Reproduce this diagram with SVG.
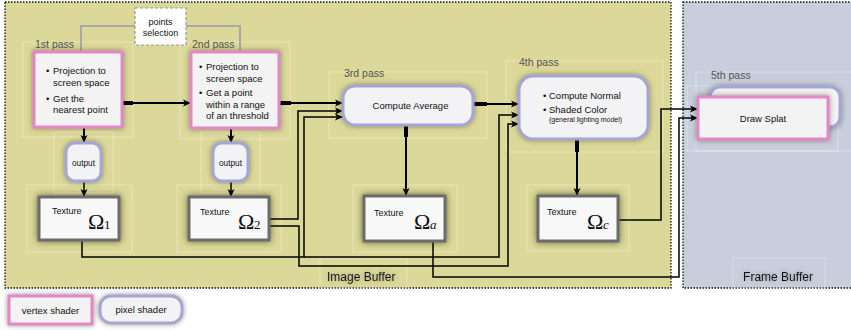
<svg xmlns="http://www.w3.org/2000/svg" width="851" height="330" viewBox="0 0 851 330">
<defs>
<style>
text{font-family:"Liberation Sans",Arial,sans-serif;fill:#111}
.lbl{font-size:10.5px;fill:#555}
.bt{font-size:9.5px}
.vs{fill:#f3f3f3;stroke:#e288c6;stroke-width:3}
.ps{fill:#f3f3f6;stroke:#a6a6d6;stroke-width:3}
.tx{fill:#f8f8f8;stroke:#6c6c6c;stroke-width:3}
.cont{fill:none;stroke:#ffffff;stroke-opacity:0.35;stroke-width:1}
.om{font-family:"Liberation Serif","Times New Roman",serif;font-size:22px}
.sub{font-family:"Liberation Serif","Times New Roman",serif;font-size:13px}
.c{fill:none;stroke:#000;stroke-width:1.5}
.ct{fill:none;stroke:#000;stroke-width:2}
.stub{fill:none;stroke:#000;stroke-width:4}
.gl{fill:none;stroke:#a8a8a8;stroke-width:2}
</style>
<filter id="sh" x="-20%" y="-30%" width="140%" height="160%"><feDropShadow dx="0" dy="0" stdDeviation="2.5" flood-color="#3a3a20" flood-opacity="0.55"/></filter>
<filter id="sht" x="-20%" y="-30%" width="140%" height="160%"><feDropShadow dx="0" dy="0" stdDeviation="3" flood-color="#2a2a10" flood-opacity="0.7"/></filter>
<filter id="tsh" x="-10%" y="-40%" width="120%" height="180%"><feDropShadow dx="0" dy="0" stdDeviation="2" flood-color="#555" flood-opacity="0.5"/></filter>
<marker id="ah" markerWidth="9" markerHeight="8" refX="8" refY="4" orient="auto" markerUnits="userSpaceOnUse"><path d="M0,0.5 L8,4 L0,7.5 L2,4 z" fill="#000"/></marker>
</defs>

<g id="image-buffer">
<rect x="5" y="2" width="666" height="286" fill="#dbd899" stroke="#111" stroke-width="1.3" stroke-dasharray="1.5 1.5"/>
<rect class="cont" x="320" y="258" width="87" height="30"/>
<text x="327" y="281" font-size="12px" fill="#333" filter="url(#tsh)">Image Buffer</text>
</g>
<g id="frame-buffer">
<rect x="683" y="2" width="172" height="286" fill="#c8cedc" stroke="#111" stroke-width="1.3" stroke-dasharray="1.5 1.5"/>
<rect class="cont" x="733" y="258" width="92" height="30"/>
<text x="778" y="281" font-size="12px" fill="#333" text-anchor="middle" filter="url(#tsh)">Frame Buffer</text>
</g>

<g id="containers">
<rect class="cont" x="23" y="42" width="110" height="95"/>
<rect class="cont" x="180" y="42" width="110" height="97"/>
<rect class="cont" x="54" y="132" width="59" height="61"/>
<rect class="cont" x="201" y="132" width="59" height="61"/>
<rect class="cont" x="27" y="185" width="105" height="67"/>
<rect class="cont" x="177" y="185" width="104" height="67"/>
<rect class="cont" x="329" y="72" width="158" height="66"/>
<rect class="cont" x="353" y="185" width="104" height="67"/>
<rect class="cont" x="506" y="61" width="157" height="91"/>
<rect class="cont" x="527" y="185" width="102" height="66"/>
<rect class="cont" x="696" y="72" width="160" height="79"/>
<rect class="cont" x="687" y="86" width="151" height="65"/>
</g>

<g id="connectors">
<path class="gl" d="M135,26 H81 V52"/>
<path class="gl" d="M186,26 H240 V52"/>
<path class="stub" d="M122,103 H133"/>
<path class="ct" d="M122,103 H191" marker-end="url(#ah)"/>
<path class="stub" d="M279,103 H291"/>
<path class="ct" d="M279,103 H343" marker-end="url(#ah)"/>
<path class="c" d="M269,219 H298 V111 H343" marker-end="url(#ah)"/>
<path class="c" d="M82,238 V257 H304 V117 H343" marker-end="url(#ah)"/>
<path class="c" d="M304,257 H499 V115 H519" marker-end="url(#ah)"/>
<path class="c" d="M269,226 H299 V266 H508 V124 H519" marker-end="url(#ah)"/>
<path class="stub" d="M473,104 H487"/>
<path class="ct" d="M473,104 H519" marker-end="url(#ah)"/>
<path class="stub" d="M406,125 V137"/>
<path class="ct" d="M406,125 V196" stroke-width="2.5" marker-end="url(#ah)"/>
<path class="stub" d="M577,139 V152"/>
<path class="ct" d="M577,139 V196" stroke-width="2.5" marker-end="url(#ah)"/>
<path class="c" d="M614,220 H661 V109 H698" marker-end="url(#ah)"/>
<path class="c" d="M433,238 V277 H679 V118 H698" marker-end="url(#ah)"/>
<path class="ct" d="M84,127 V143" stroke-width="3" marker-end="url(#ah)"/>
<path class="c" d="M84,181 V197" marker-end="url(#ah)"/>
<path class="ct" d="M231,128 V143" marker-end="url(#ah)"/>
<path class="c" d="M231,181 V197" marker-end="url(#ah)"/>
</g>

<g id="points-selection">
<rect x="135" y="8" width="51" height="37" fill="#fff" stroke="#999" stroke-width="1.2" stroke-dasharray="3 2"/>
<text x="160.5" y="25" font-size="9px" text-anchor="middle">points</text>
<text x="160.5" y="36" font-size="9px" text-anchor="middle">selection</text>
</g>

<g id="pass1">
<text class="lbl" x="35" y="48">1st pass</text>
<rect class="vs" x="34" y="52" width="88" height="75" filter="url(#sh)"/>
<text class="bt" x="46" y="74">•</text><text class="bt" x="53" y="74">Projection to</text>
<text class="bt" x="53" y="86">screen space</text>
<text class="bt" x="46" y="102">•</text><text class="bt" x="53" y="102">Get the</text>
<text class="bt" x="53" y="113">nearest point</text>
</g>

<g id="output1">
<rect class="ps" x="66" y="143" width="35" height="38" rx="9" filter="url(#sh)"/>
<text x="83.5" y="166" font-size="8.3px" text-anchor="middle">output</text>
</g>

<g id="texture1">
<rect class="tx" x="39" y="197" width="80" height="43" filter="url(#sht)"/>
<text x="52" y="214" font-size="9px">Texture</text>
<text class="om" x="88" y="229">Ω</text><text class="sub" x="104" y="229">1</text>
</g>

<g id="pass2">
<text class="lbl" x="192" y="48">2nd pass</text>
<rect class="vs" x="191" y="52" width="88" height="76" filter="url(#sh)"/>
<text class="bt" x="199" y="70">•</text><text class="bt" x="206" y="70">Projection to</text>
<text class="bt" x="206" y="82">screen space</text>
<text class="bt" x="199" y="96">•</text><text class="bt" x="206" y="96">Get a point</text>
<text class="bt" x="206" y="108">within a range</text>
<text class="bt" x="206" y="119">of an threshold</text>
</g>

<g id="output2">
<rect class="ps" x="213" y="143" width="35" height="38" rx="9" filter="url(#sh)"/>
<text x="230.5" y="166" font-size="8.3px" text-anchor="middle">output</text>
</g>

<g id="texture2">
<rect class="tx" x="189" y="197" width="80" height="43" filter="url(#sht)"/>
<text x="200" y="215" font-size="9px">Texture</text>
<text class="om" x="238" y="229">Ω</text><text class="sub" x="254" y="229">2</text>
</g>

<g id="pass3">
<text class="lbl" x="344" y="77">3rd pass</text>
<rect class="ps" x="343" y="86" width="130" height="39" rx="12" filter="url(#sh)"/>
<text class="bt" x="410.5" y="109" text-anchor="middle">Compute Average</text>
</g>

<g id="texture-a">
<rect class="tx" x="364" y="196" width="81" height="45" filter="url(#sht)"/>
<text x="374" y="216" font-size="9px">Texture</text>
<text class="om" x="414" y="229">Ω</text><text class="sub" x="430" y="229" font-style="italic">a</text>
</g>

<g id="pass4">
<text class="lbl" x="519" y="66">4th pass</text>
<rect class="ps" x="519" y="76" width="129" height="63" rx="14" filter="url(#sh)"/>
<text class="bt" x="543" y="99">•</text><text class="bt" x="549" y="99">Compute Normal</text>
<text class="bt" x="543" y="113">•</text><text class="bt" x="549" y="113">Shaded Color</text>
<text x="549" y="121.5" font-size="7px">(general lighting model)</text>
</g>

<g id="texture-c">
<rect class="tx" x="538" y="196" width="80" height="45" filter="url(#sht)"/>
<text x="547" y="215" font-size="9px">Texture</text>
<text class="om" x="587" y="229">Ω</text><text class="sub" x="603" y="229" font-style="italic">c</text>
</g>

<g id="pass5">
<text class="lbl" x="711" y="79">5th pass</text>
<rect class="ps" x="710" y="87" width="130" height="40" rx="10" fill="#f2eff2" filter="url(#sh)"/>
<rect class="vs" x="698" y="97" width="130" height="42" filter="url(#sh)"/>
<text class="bt" x="763" y="122" text-anchor="middle">Draw Splat</text>
</g>

<g id="legend-vertex">
<rect class="vs" x="9" y="296" width="83" height="28" stroke-width="2.5" filter="url(#sh)"/>
<text x="50.5" y="314" font-size="9.5px" text-anchor="middle">vertex shader</text>
</g>
<g id="legend-pixel">
<rect class="ps" x="100" y="296" width="82" height="27" rx="11" filter="url(#sh)"/>
<text x="141" y="313" font-size="9.5px" text-anchor="middle">pixel shader</text>
</g>
</svg>
